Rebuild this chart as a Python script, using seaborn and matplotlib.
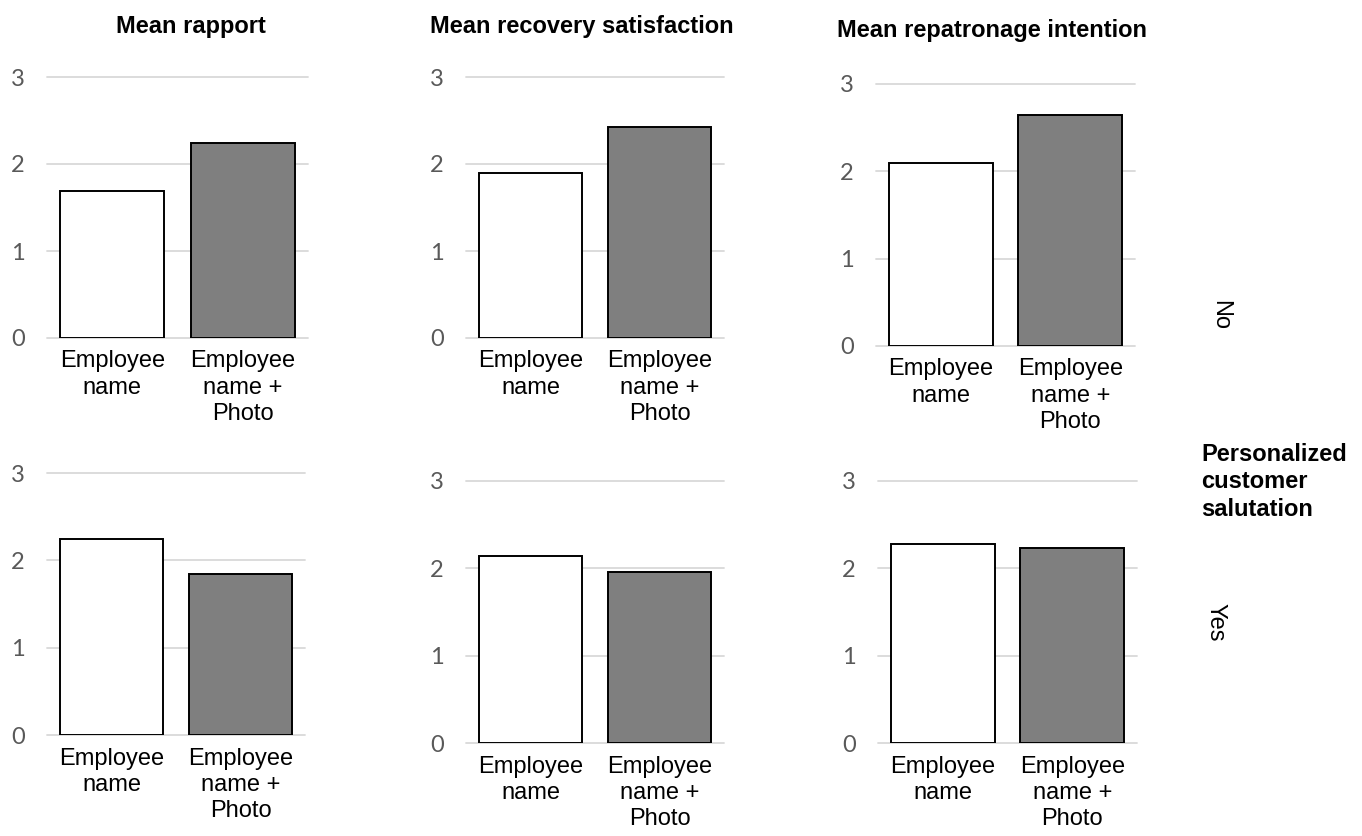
import numpy as np
import pandas as pd
import seaborn as sns
import matplotlib.pyplot as plt

# data
metrics = ["Mean rapport", "Mean recovery satisfaction", "Mean repatronage intention"]
conditions = ["Employee\nname", "Employee\nname +\nPhoto"]
salutation = ["No", "Yes"]
no_rapport = [1.69, 2.24]
no_satisfaction = [1.90, 2.42]
no_repatronage = [2.10, 2.64]
yes_rapport = [2.24, 1.84]
yes_satisfaction = [2.14, 1.96]
yes_repatronage = [2.28, 2.23]

values = {
    ("No", 0): no_rapport, ("No", 1): no_satisfaction, ("No", 2): no_repatronage,
    ("Yes", 0): yes_rapport, ("Yes", 1): yes_satisfaction, ("Yes", 2): yes_repatronage,
}

W, H = 1362, 836
# panel boxes in pixels: left, right, top (y=3), bottom (y=0)
boxes = {
    ("No", 0): (47, 308, 77, 338),
    ("No", 1): (466, 724, 77, 338),
    ("No", 2): (876, 1135, 84, 346),
    ("Yes", 0): (47, 305, 473, 735),
    ("Yes", 1): (466, 724, 481, 743),
    ("Yes", 2): (878, 1137, 481, 743),
}

sns.set_style("white")
plt.rcParams['font.family'] = ['Liberation Sans', 'DejaVu Sans']
plt.rcParams['text.color'] = 'black'

fig = plt.figure(figsize=(W / 100, H / 100), dpi=100)

palette = {conditions[0]: "white", conditions[1]: "#7f7f7f"}

for (sal, m), (l, r, t, b) in boxes.items():
    ax = fig.add_axes([l / W, 1 - b / H, (r - l) / W, (b - t) / H])
    df = pd.DataFrame({"condition": conditions, "value": values[(sal, m)]})
    sns.barplot(data=df, x="condition", y="value", hue="condition",
                palette=palette, edgecolor="black", linewidth=1.4,
                width=0.8, legend=False, ax=ax)
    ax.set_ylim(0, 3)
    ax.set_xlim(-0.5, 1.5)
    ax.set_yticks([0, 1, 2, 3])
    ax.set_yticklabels(["0", "1", "2", "3"], family="Lato", fontsize=17, color="#595959")
    ax.yaxis.grid(True, color="#d9d9d9", linewidth=1.3)
    for line in ax.get_ygridlines():
        line.set_clip_on(False)
    ax.set_axisbelow(True)
    ax.tick_params(axis="y", length=0, pad=16)
    ax.tick_params(axis="x", length=0, pad=9, labelsize=17, labelcolor="black")
    for lab in ax.get_xticklabels():
        lab.set_linespacing(1.25)
    ax.set_xlabel("")
    ax.set_ylabel("")
    sns.despine(ax=ax, left=True, bottom=True)

# column titles
fig.text(191 / W, 1 - 26 / H, metrics[0], ha="center", va="center", fontsize=17, fontweight="bold")
fig.text(582 / W, 1 - 26 / H, metrics[1], ha="center", va="center", fontsize=17, fontweight="bold")
fig.text(992 / W, 1 - 30 / H, metrics[2], ha="center", va="center", fontsize=17, fontweight="bold")

# row labels
fig.text(1220 / W, 1 - 315 / H, salutation[0], ha="center", va="center", rotation=-90, fontsize=17)
fig.text(1215 / W, 1 - 622 / H, salutation[1], ha="center", va="center", rotation=-90, fontsize=17)
fig.text(1201 / W, 1 - 482 / H, "Personalized\ncustomer\nsalutation", ha="left", va="center",
         fontsize=17, fontweight="bold", linespacing=1.25)

fig.savefig("out.png", dpi=100, facecolor="white")
